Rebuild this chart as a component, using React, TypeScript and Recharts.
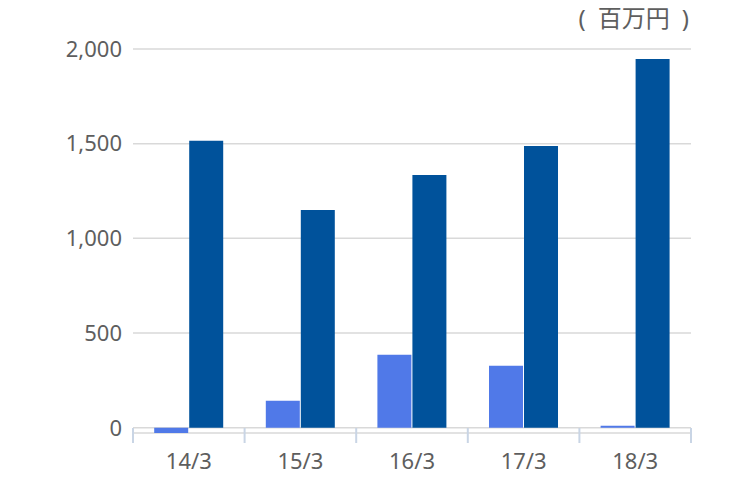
import { Bar, BarChart, CartesianGrid, XAxis, YAxis } from "recharts";

const categories = ["14/3", "15/3", "16/3", "17/3", "18/3"];
const lightValues = [-28, 142, 385, 327, 10];
const darkValues = [1515, 1150, 1335, 1488, 1947];
const yTicks = [0, 500, 1000, 1500, 2000];

const data = categories.map((name, i) => ({
  name,
  light: lightValues[i],
  dark: darkValues[i],
}));

const FONT = '"Noto Sans", "Noto Sans CJK JP", sans-serif';
const TEXT = "#5e5e5e";

function CategoryTick(props: any) {
  const { x, y, payload, index, visibleTicksCount } = props;
  const half = payload?.offset ?? 0;
  const top = y - 5;
  const bottom = y + 10;
  return (
    <g>
      <line x1={x - half} x2={x - half} y1={top} y2={bottom} stroke="#c9d5e5" strokeWidth={2} />
      {index === visibleTicksCount - 1 && (
        <line x1={x + half} x2={x + half} y1={top} y2={bottom} stroke="#c9d5e5" strokeWidth={2} />
      )}
      <text x={x} y={y + 36} textAnchor="middle" fill={TEXT} fontSize={22} fontFamily={FONT}>
        {payload.value}
      </text>
    </g>
  );
}

export default function App() {
  return (
    <div style={{ position: "absolute", left: 0, top: 0, width: 750, height: 480, background: "#fff" }}>
      <BarChart
        width={750}
        height={480}
        data={data}
        margin={{ top: 49, right: 59, left: 0, bottom: 0 }}
        barCategoryGap="19%"
        barGap={1}
      >
        <CartesianGrid vertical={false} stroke="#d9d9d9" strokeWidth={1.5} />
        <XAxis
          dataKey="name"
          height={47}
          axisLine={false}
          tickLine={false}
          tickSize={0}
          tickMargin={0}
          interval={0}
          tick={<CategoryTick />}
        />
        <YAxis
          width={133}
          domain={["dataMin", 2000]}
          ticks={yTicks}
          axisLine={false}
          tickLine={false}
          tickMargin={5}
          tickFormatter={(v: number) => v.toLocaleString("en-US")}
          tick={{ fill: TEXT, fontSize: 22, fontFamily: FONT }}
        />
        <Bar dataKey="light" fill="#5079e8" isAnimationActive={false} />
        <Bar dataKey="dark" fill="#00529b" isAnimationActive={false} />
        <text x={689} y={27} textAnchor="end" fill={TEXT} fontSize={24} fontFamily={FONT}>
          {"(\u2002百万円\u2002)"}
        </text>
      </BarChart>
    </div>
  );
}
